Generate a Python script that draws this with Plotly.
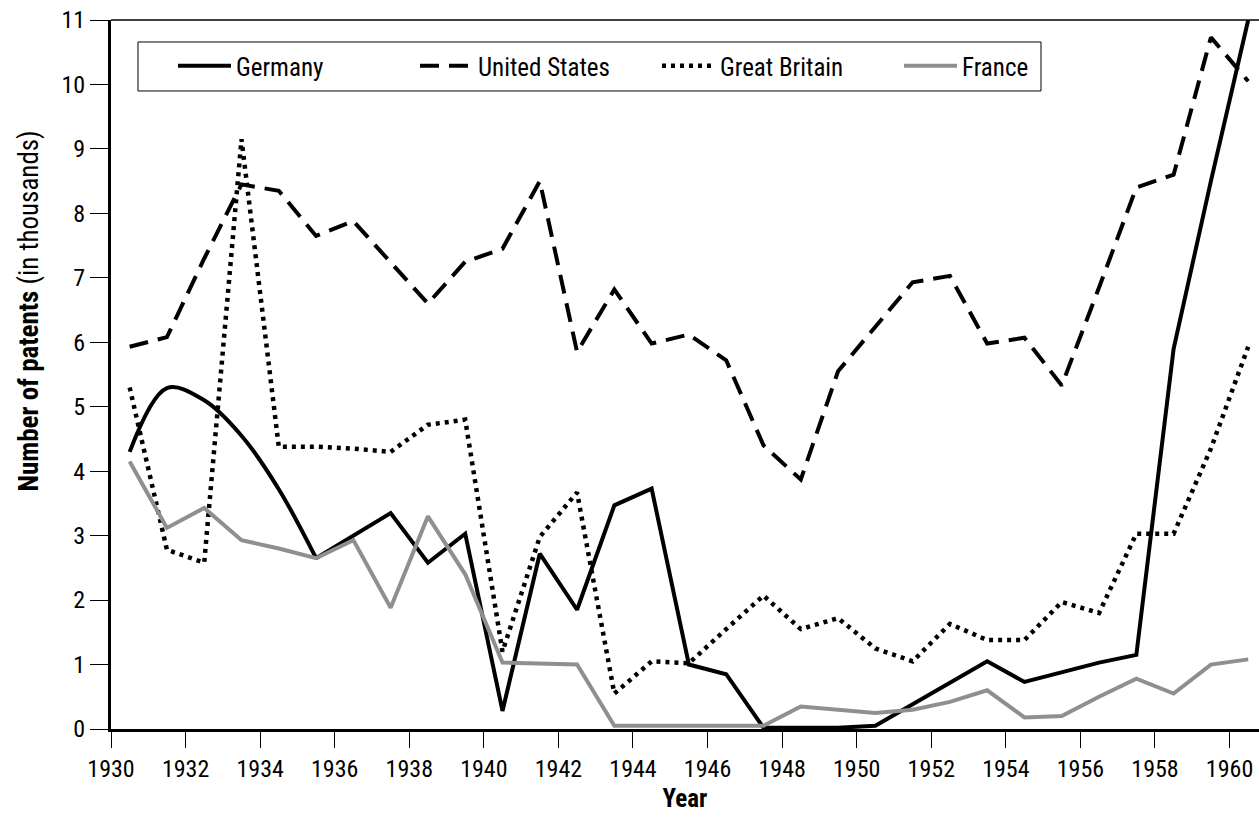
import plotly.graph_objects as go

years = [1930.5 + i for i in range(31)]

germany_curve_x = years[:6]
germany_curve = [4.3, 5.29, 5.1, 4.55, 3.72, 2.65]
germany = [4.3, 5.29, 5.1, 4.55, 3.72, 2.65, 3.0, 3.35, 2.58, 3.03,
           0.28, 2.72, 1.85, 3.47, 3.73, 1.0, 0.85, 0.02, 0.02, 0.02,
           0.05, 0.38, 0.72, 1.05, 0.73, 0.88, 1.03, 1.15, 5.9, 8.5, 11.0]
united_states = [5.93, 6.08, 7.3, 8.45, 8.35, 7.65, 7.88, 7.25, 6.6, 7.25,
                 7.45, 8.5, 5.85, 6.82, 5.98, 6.12, 5.72, 4.4, 3.87, 5.55,
                 6.25, 6.93, 7.03, 5.98, 6.07, 5.33, 6.85, 8.4, 8.6, 10.73, 10.05]
great_britain = [5.3, 2.78, 2.58, 9.15, 4.38, 4.38, 4.35, 4.3, 4.72, 4.8,
                 1.2, 2.98, 3.67, 0.55, 1.05, 1.02, 1.55, 2.07, 1.55, 1.72,
                 1.25, 1.05, 1.63, 1.38, 1.38, 1.97, 1.8, 3.03, 3.03, 4.35, 5.93]
france = [4.15, 3.12, 3.43, 2.93, 2.8, 2.65, 2.93, 1.88, 3.3, 2.4,
          1.03, 1.02, 1.0, 0.05, 0.05, 0.05, 0.05, 0.05, 0.35, 0.3,
          0.25, 0.3, 0.42, 0.6, 0.18, 0.2, 0.5, 0.78, 0.55, 1.0, 1.08]

tick_years = list(range(1930, 1961, 2))
y_ticks = list(range(0, 12))

FONT = "Liberation Sans Narrow, Arial Narrow, Roboto Condensed, sans-serif"

fig = go.Figure()
fig.add_trace(go.Scatter(x=germany_curve_x, y=germany_curve, mode="lines",
                         line=dict(color="black", width=4, shape="spline"),
                         legendgroup="de", showlegend=False, hoverinfo="skip"))
fig.add_trace(go.Scatter(x=years[5:], y=germany[5:], mode="lines", name="Germany",
                         line=dict(color="black", width=4), legendgroup="de"))
fig.add_trace(go.Scatter(x=years, y=united_states, mode="lines", name="United States",
                         line=dict(color="black", width=4, dash="19px,10px")))
fig.add_trace(go.Scatter(x=years, y=great_britain, mode="lines", name="Great Britain",
                         line=dict(color="black", width=4.5, dash="4px,5px")))
fig.add_trace(go.Scatter(x=years, y=france, mode="lines", name="France",
                         line=dict(color="#8f8f8f", width=4)))

fig.update_layout(
    width=1259, height=820,
    margin=dict(l=111, r=0, t=20, b=91, autoexpand=False),
    paper_bgcolor="white", plot_bgcolor="white",
    font=dict(family=FONT, size=24, color="black"),
    showlegend=True,
    legend=dict(orientation="h", x=0.054, y=0.935, xanchor="left", yanchor="middle",
                borderwidth=0, bgcolor="rgba(0,0,0,0)",
                font=dict(family=FONT, size=25), itemwidth=53,
                entrywidth=174, entrywidthmode="pixels", traceorder="normal"),
)
fig.update_xaxes(range=[1930, 1960.79], tickvals=tick_years, ticktext=[str(t) for t in tick_years],
                 showline=True, linecolor="black", linewidth=3, mirror=False,
                 ticks="outside", ticklen=16, tickwidth=1, tickcolor="black",
                 showgrid=False, zeroline=False, automargin=False, ticklabeloverflow="allow",
                 title=dict(text="<b>Year</b>", font=dict(family=FONT, size=25), standoff=8))
fig.update_yaxes(range=[0, 11], tickvals=y_ticks, showline=True, linecolor="black", linewidth=3,
                 ticks="outside", ticklen=18, tickwidth=1, tickcolor="black",
                 showgrid=False, zeroline=False, automargin=False, ticklabeloverflow="allow")
# y-axis title
fig.add_annotation(text="<b>Number of patents</b> (in thousands)", textangle=-90,
                   xref="paper", yref="paper", x=-0.0715, y=0.59,
                   xanchor="center", yanchor="middle", showarrow=False,
                   font=dict(family=FONT, size=27, color="black"))
# top frame line
fig.add_shape(type="line", xref="paper", yref="paper", x0=0, x1=1, y0=1, y1=1,
              line=dict(color="black", width=1.5))
# legend frame
fig.add_shape(type="rect", xref="paper", yref="paper", x0=0.0235, x1=0.8101, y0=0.8999, y1=0.969,
              line=dict(color="black", width=1), fillcolor="white", layer="below")

# remove the browser's default 8px page margin so the figure fills the window exactly
fig.write_html("out.html", config={"displayModeBar": False},
               post_script="document.body.style.margin='0';")
